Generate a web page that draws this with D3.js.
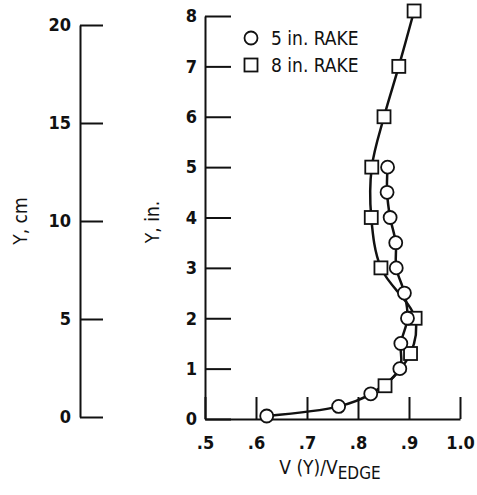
<!DOCTYPE html>
<html><head><meta charset="utf-8">
<script src="https://cdn.jsdelivr.net/npm/d3@7"></script>
<style>
body{margin:0;background:#fff;}
text{font-family:"Liberation Sans Narrow","DejaVu Sans Condensed","Arial Narrow",sans-serif;fill:#111;}
</style></head>
<body><svg id="c" width="477" height="495"></svg>
<script>
const rake5Y = [5.0, 4.5, 4.0, 3.5, 3.0, 2.5, 2.0, 1.5, 1.0, 0.5, 0.25, 0.06];
const rake5V = [0.858, 0.857, 0.863, 0.874, 0.875, 0.891, 0.897, 0.884, 0.882, 0.825, 0.762, 0.621];
const rake8Y = [8.1, 7.0, 6.0, 5.0, 4.0, 3.0, 2.0, 1.3, 0.66];
const rake8V = [0.910, 0.880, 0.851, 0.827, 0.826, 0.845, 0.912, 0.903, 0.853];
const xTicks = [0.5, 0.6, 0.7, 0.8, 0.9, 1.0];
const xTickLabels = [".5", ".6", ".7", ".8", ".9", "1.0"];
const inTicks = [0, 1, 2, 3, 4, 5, 6, 7, 8];
const cmTicks = [0, 5, 10, 15, 20];
const legendLabels = ["5 in. RAKE", "8 in. RAKE"];

const svg = d3.select("#c");
const x = d3.scaleLinear().domain([0.5, 1.0]).range([205, 460]);
const y = d3.scaleLinear().domain([0, 8]).range([419, 16]);
const ycm = d3.scaleLinear().domain([0, 20]).range([417, 25]);

function styleAxis(g){
  g.selectAll("path.domain").attr("stroke","#111").attr("stroke-width",2);
  g.selectAll(".tick line").attr("stroke","#111").attr("stroke-width",2);
  g.selectAll(".tick text").attr("font-size",18).attr("font-weight","bold").style("fill","#111");
}

// cm axis
const gcm = svg.append("g").attr("transform","translate(80,0)")
  .call(d3.axisLeft(ycm).tickValues(cmTicks).tickSizeInner(-23).tickSizeOuter(0).tickPadding(9).tickFormat(d3.format("d")));
styleAxis(gcm);

// inch axis
const gin = svg.append("g").attr("transform","translate(205,0)")
  .call(d3.axisLeft(y).tickValues(inTicks).tickSizeInner(-26).tickSizeOuter(0).tickPadding(8).tickFormat(d3.format("d")));
styleAxis(gin);

// x axis
const gx = svg.append("g").attr("transform","translate(0,419)")
  .call(d3.axisBottom(x).tickValues(xTicks).tickSizeInner(-22).tickSizeOuter(0).tickPadding(17)
    .tickFormat((d,i)=>xTickLabels[i]));
styleAxis(gx);

// axis titles
svg.append("text").attr("transform","translate(27,221) rotate(-90)").attr("text-anchor","middle")
  .attr("font-size",19).text("Y, cm");
svg.append("text").attr("transform","translate(159,222) rotate(-90)").attr("text-anchor","middle")
  .attr("font-size",19).text("Y, in.");
const xt = svg.append("text").attr("x",330).attr("y",474).attr("text-anchor","middle").attr("font-size",19);
xt.append("tspan").text("V (Y)/V");
xt.append("tspan").attr("dy",5).attr("font-size",17).text("EDGE");

// lines
const d5 = rake5Y.map((v,i)=>({y:v, v:rake5V[i]}));
const d8 = rake8Y.map((v,i)=>({y:v, v:rake8V[i]}));
const line = d3.line().x(d=>x(d.v)).y(d=>y(d.y)).curve(d3.curveCatmullRom.alpha(0.5));
svg.append("path").datum(d8).attr("d",line).attr("fill","none").attr("stroke","#111").attr("stroke-width",2.5);
svg.append("path").datum(d5).attr("d",line).attr("fill","none").attr("stroke","#111").attr("stroke-width",2.5);

// markers
svg.selectAll("rect.m8").data(d8).enter().append("rect").attr("class","m8")
  .attr("x",d=>x(d.v)-6.5).attr("y",d=>y(d.y)-6.5).attr("width",13).attr("height",13)
  .attr("fill","#fff").attr("stroke","#111").attr("stroke-width",1.8);
svg.selectAll("circle.m5").data(d5).enter().append("circle").attr("class","m5")
  .attr("cx",d=>x(d.v)).attr("cy",d=>y(d.y)).attr("r",6.5)
  .attr("fill","#fff").attr("stroke","#111").attr("stroke-width",1.8);

// legend
svg.append("circle").attr("cx",251).attr("cy",38).attr("r",6.5).attr("fill","#fff").attr("stroke","#111").attr("stroke-width",1.8);
svg.append("rect").attr("x",244.5).attr("y",58.5).attr("width",13).attr("height",13).attr("fill","#fff").attr("stroke","#111").attr("stroke-width",1.8);
svg.append("text").attr("x",271).attr("y",45).attr("font-size",19).text(legendLabels[0]);
svg.append("text").attr("x",271).attr("y",72).attr("font-size",19).text(legendLabels[1]);
</script></body></html>
